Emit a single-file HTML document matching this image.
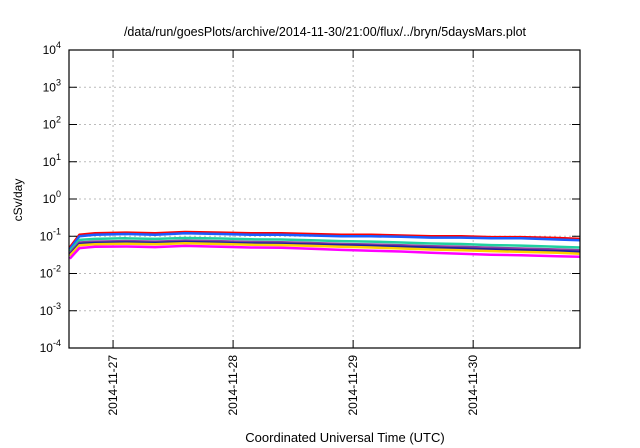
<!DOCTYPE html>
<html><head><meta charset="utf-8"><style>
body{margin:0;background:#fff;}
svg{display:block;font-family:"Liberation Sans",sans-serif;}
</style></head><body>
<svg id="c" width="640" height="448">
<text x="325" y="36" text-anchor="middle" font-size="12.5">/data/run/goesPlots/archive/2014-11-30/21:00/flux/../bryn/5daysMars.plot</text>
<text x="345" y="442" text-anchor="middle" font-size="13">Coordinated Universal Time (UTC)</text>
<text transform="translate(22,200) rotate(-90)" text-anchor="middle" font-size="12">cSv/day</text>
<g id="grid"></g><g id="series"></g><g id="axes"></g>
</svg>
<script>
const times=[0.64,0.72,0.85,1.1,1.35,1.6,1.9,2.15,2.4,2.65,2.9,3.15,3.4,3.65,3.9,4.15,4.4,4.7,4.89];
const xTickDays=[1,2,3,4];
const xTickLabels=["2014-11-27","2014-11-28","2014-11-29","2014-11-30"];
const yTickExps=[-4,-3,-2,-1,0,1,2,3,4];
const seriesColors=["#ff0000","#1a5cff","#20d0a0","#8a3fa0","#2020a0","#ffd000","#ff00ff"];
const red=[0.05,0.11,0.12,0.125,0.12,0.13,0.125,0.12,0.12,0.115,0.11,0.11,0.105,0.10,0.10,0.095,0.095,0.09,0.085];
const blue=[0.045,0.10,0.11,0.115,0.11,0.12,0.115,0.11,0.11,0.105,0.10,0.10,0.097,0.092,0.092,0.088,0.088,0.082,0.078];
const teal=[0.04,0.08,0.085,0.088,0.085,0.09,0.087,0.083,0.082,0.078,0.074,0.072,0.068,0.064,0.062,0.058,0.056,0.052,0.05];
const purple=[0.035,0.068,0.072,0.074,0.072,0.076,0.073,0.07,0.069,0.066,0.062,0.06,0.057,0.054,0.052,0.049,0.047,0.044,0.042];
const darkblue=[0.032,0.062,0.066,0.068,0.066,0.07,0.067,0.064,0.063,0.06,0.057,0.055,0.052,0.049,0.047,0.044,0.042,0.04,0.038];
const yellow=[0.03,0.057,0.061,0.063,0.061,0.065,0.062,0.059,0.058,0.055,0.052,0.05,0.047,0.044,0.042,0.04,0.038,0.036,0.034];
const magenta=[0.025,0.048,0.052,0.053,0.051,0.055,0.052,0.05,0.049,0.046,0.043,0.041,0.039,0.036,0.034,0.032,0.031,0.029,0.028];
const seriesNames=["red","blue","teal","purple","darkblue","yellow","magenta"];
const seriesData=[red,blue,teal,purple,darkblue,yellow,magenta];

const L=69,R=580,T=50,B=348,D0=0.633,D1=4.89,E0=-4,E1=4;
const NS="http://www.w3.org/2000/svg";
const xs=d=>L+(d-D0)/(D1-D0)*(R-L);
const ys=v=>B-(Math.log10(v)-E0)/(E1-E0)*(B-T);
const ye=e=>B-(e-E0)/(E1-E0)*(B-T);
function mk(t,a,p){const e=document.createElementNS(NS,t);for(const k in a)e.setAttribute(k,a[k]);p.appendChild(e);return e;}
const grid=document.getElementById('grid'),axes=document.getElementById('axes'),ser=document.getElementById('series');
yTickExps.forEach(e=>{
  const y=ye(e);
  if(e>E0&&e<E1){const g=mk('line',{x1:L,x2:R,y1:y,y2:y,stroke:'#bbb','stroke-dasharray':'2,3'},grid);
  
  }
  const t=mk('line',{x1:L,x2:L+8,y1:y,y2:y,stroke:'#000'},axes);
  
  
  const t2=mk('line',{x1:R-8,x2:R,y1:y,y2:y,stroke:'#000'},axes);
  
  
  const tx=mk('text',{x:L-8,y:y+4,'text-anchor':'end','font-size':'12'},axes);
  
  
  tx.appendChild(document.createTextNode('10'));
  const s=mk('tspan',{dy:'-6','font-size':'9'},tx);s.textContent=String(e);
});
xTickDays.forEach((d,i)=>{
  const x=xs(d);
  const g=mk('line',{x1:x,x2:x,y1:T,y2:B,stroke:'#bbb','stroke-dasharray':'2,3'},grid);
  
  
  const t=mk('line',{x1:x,x2:x,y1:B-8,y2:B,stroke:'#000'},axes);
  
  
  const t2=mk('line',{x1:x,x2:x,y1:T,y2:T+8,stroke:'#000'},axes);
  
  
  const tx=mk('text',{transform:`translate(${x+4},${B+7}) rotate(-90)`,'text-anchor':'end','font-size':'12'},axes);
  
  
  tx.textContent=xTickLabels[i];
});
const fr=mk('rect',{x:L,y:T,width:R-L,height:B-T,fill:'none',stroke:'#000','stroke-width':1.2},axes);


seriesData.forEach((arr,i)=>{
  const pts=arr.map((v,j)=>xs(times[j]).toFixed(1)+','+ys(v).toFixed(1)).join(' ');
  const p=mk('polyline',{points:pts,fill:'none',stroke:seriesColors[i],'stroke-width':2.5,'stroke-linejoin':'round'},ser);
  
  
});
</script>
</body></html>
